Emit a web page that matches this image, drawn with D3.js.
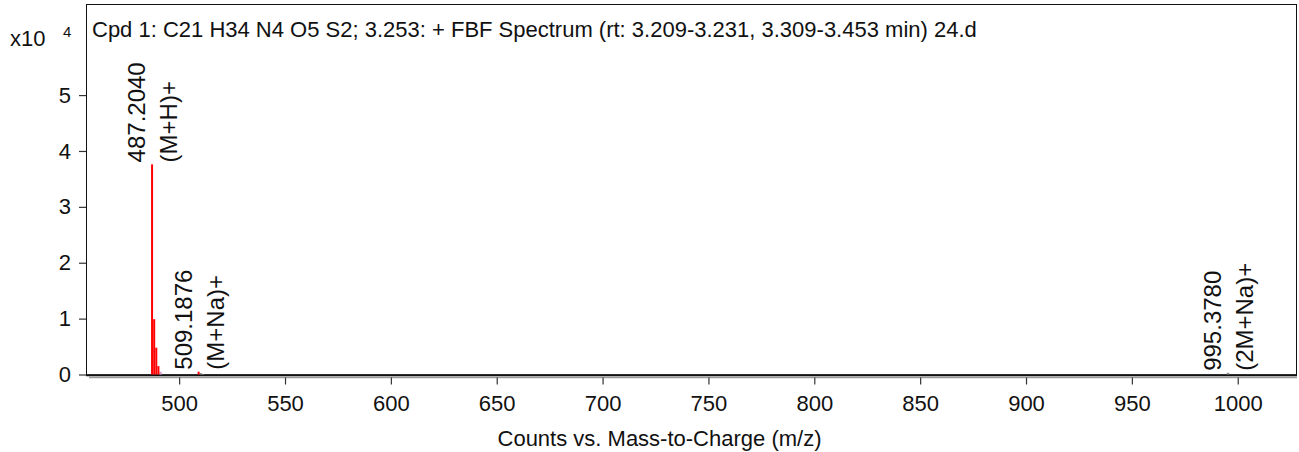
<!DOCTYPE html>
<html>
<head>
<meta charset="utf-8">
<script src="https://cdn.jsdelivr.net/npm/d3@7/dist/d3.min.js"></script>
<style>
  html, body { margin: 0; padding: 0; background: #fff; }
  svg { display: block; font-family: "Liberation Sans", Arial, sans-serif; }
</style>
</head>
<body>
<svg id="chart" width="1299" height="452"></svg>
<script>
// Spectrum title and axis text
const titleText = "Cpd 1: C21 H34 N4 O5 S2; 3.253: + FBF Spectrum (rt: 3.209-3.231, 3.309-3.453 min) 24.d";
const xAxisTitle = "Counts vs. Mass-to-Charge (m/z)";

// Tick values
const xTicks = [500, 550, 600, 650, 700, 750, 800, 850, 900, 950, 1000];
const yTicks = [0, 1, 2, 3, 4, 5];

// Compound peaks (red), intensities in units of 10^4 counts
const redMz     = [487.2040, 488.2070, 489.2010, 490.2030, 509.1876];
const redCounts = [3.76,     0.99,     0.48,     0.15,     0.05];

// Minor peaks drawn in pink and grey
const pinkMz     = [491.2010];
const pinkCounts = [0.05];
const greyMz     = [510.1900, 511.1900, 995.3780];
const greyCounts = [0.025,    0.01,     0.03];

// Annotated ions
const labelMz  = [487.2040, 509.1876, 995.3780];
const labelVal = [3.76, 0.05, 0.03];
const labelIon = ["(M+H)+", "(M+Na)+", "(2M+Na)+"];

const svg = d3.select("#chart");
const plotL = 86, plotR = 1297, plotT = 4, plotB = 374.5;
const fontMain = 22, fontPeak = 24;

const x = d3.scaleLinear().domain([456, 1028]).range([plotL, plotR]);
const y = d3.scaleLinear().domain([0, 6.63]).range([plotB, plotT]);

// Plot frame
svg.append("rect")
  .attr("x", plotL + 0.5).attr("y", plotT + 0.5)
  .attr("width", plotR - plotL - 1).attr("height", plotB - plotT)
  .attr("fill", "none").attr("stroke", "#111").attr("stroke-width", 1);

// Bottom axis with shadow
svg.append("line")
  .attr("x1", plotL + 3).attr("x2", plotR)
  .attr("y1", plotB + 3).attr("y2", plotB + 3)
  .attr("stroke", "#9a9a9a").attr("stroke-width", 1.5);
svg.append("line")
  .attr("x1", plotL).attr("x2", plotR)
  .attr("y1", plotB + 0.75).attr("y2", plotB + 0.75)
  .attr("stroke", "#111").attr("stroke-width", 2);

// X axis
const xAxis = d3.axisBottom(x).tickValues(xTicks).tickSize(7).tickPadding(11).tickFormat(d3.format("d"));
const gx = svg.append("g").attr("transform", `translate(0,${plotB + 3})`).call(xAxis);
gx.select(".domain").remove();
gx.selectAll(".tick line").attr("stroke", "#333").attr("stroke-width", 1.2);
gx.selectAll(".tick text").attr("font-size", fontMain).attr("fill", "#111")
  .attr("font-family", "'Liberation Sans', Arial, sans-serif");

// Y axis
const yAxis = d3.axisLeft(y).tickValues(yTicks).tickSize(7).tickPadding(8).tickFormat(d3.format("d"));
const gy = svg.append("g").attr("transform", `translate(${plotL},0)`).call(yAxis);
gy.select(".domain").remove();
gy.selectAll(".tick line").attr("stroke", "#333").attr("stroke-width", 1.2);
gy.selectAll(".tick text").attr("font-size", fontMain).attr("fill", "#111")
  .attr("font-family", "'Liberation Sans', Arial, sans-serif");

// Exponent label
svg.append("text").attr("x", 10).attr("y", 46)
  .attr("font-size", fontMain).attr("fill", "#111").text("x10");
svg.append("text").attr("x", 63).attr("y", 37).attr("font-size", 15).attr("fill", "#111").text("4");

// Title
svg.append("text").attr("x", 92).attr("y", 37)
  .attr("font-size", fontMain).attr("fill", "#111").text(titleText);

// Axis title
svg.append("text").attr("x", 659.5).attr("y", 446)
  .attr("text-anchor", "middle").attr("font-size", fontMain).attr("fill", "#111").text(xAxisTitle);

// Spectrum sticks
function sticks(mzs, vals, color, w) {
  svg.append("g").selectAll("rect")
    .data(mzs.map((m, i) => ({ m, v: vals[i] })))
    .join("rect")
    .attr("x", d => x(d.m) - w / 2)
    .attr("width", w)
    .attr("y", d => y(d.v))
    .attr("height", d => plotB - y(d.v))
    .attr("fill", color);
}
sticks(greyMz, greyCounts, "#8a8a8a", 2.5);
sticks(pinkMz, pinkCounts, "#d9a3d6", 2.5);
sticks(redMz, redCounts, "#ff0000", 2);

// Peak annotations (two rotated lines centred on the peak)
const lab = svg.append("g");
labelMz.forEach((m, i) => {
  const px = x(m), py = y(labelVal[i]) - 2;
  lab.append("text")
    .attr("transform", `translate(${px - 7},${py}) rotate(-90)`)
    .attr("font-size", fontPeak).attr("fill", "#111").text(m.toFixed(4));
  lab.append("text")
    .attr("transform", `translate(${px + 25},${py}) rotate(-90)`)
    .attr("font-size", fontPeak).attr("fill", "#111").text(labelIon[i]);
});
</script>
</body>
</html>
